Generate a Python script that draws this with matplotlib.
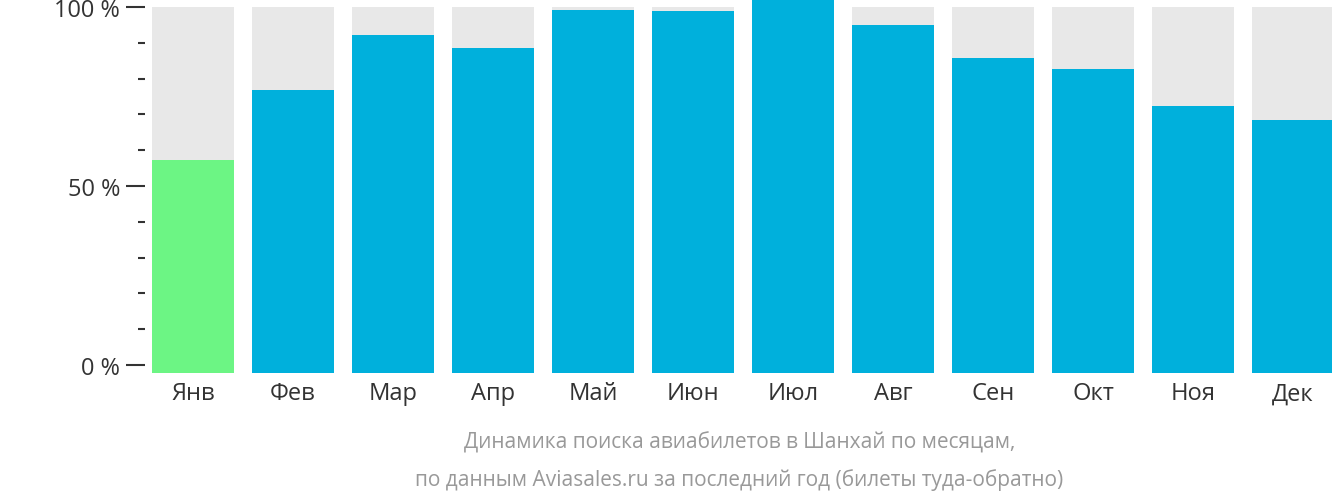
import matplotlib
matplotlib.use("Agg")
import matplotlib.pyplot as plt

months = ["Янв", "Фев", "Мар", "Апр", "Май", "Июн", "Июл", "Авг", "Сен", "Окт", "Ноя", "Дек"]
values = [57.3, 76.8, 92.2, 88.5, 99.2, 98.9, 102.2, 95.0, 85.8, 82.7, 72.3, 68.4]
colors = ["#6cf584"] + ["#00b0dc"] * 11

plt.rcParams["font.family"] = "Open Sans"
fig = plt.figure(figsize=(13.32, 5.02), dpi=100)
ax = fig.add_axes([0.1089, 0.255, 0.8911, 0.745])

x = range(len(months))
ax.bar(x, [102.2] * 12, width=0.82, bottom=-2.2, color="#e8e8e8")
ax.bar(x, [v + 2.2 for v in values], width=0.82, bottom=-2.2, color=colors)

ax.set_xlim(-0.48, 11.39)
ax.set_ylim(-2.2, 102.2)
ax.set_xticks(list(x))
ax.set_xticklabels(months, fontsize=17, color="#333333")
ax.tick_params(axis="x", length=0, pad=6)
ax.set_yticks([0, 50, 100])
ax.set_yticklabels(["0 %", "50 %", "100 %"], fontsize=17, color="#333333")
ax.set_yticks(range(10, 100, 10), minor=True)
ax.tick_params(axis="y", which="major", length=14, width=1.5, color="#333333", pad=4)
ax.tick_params(axis="y", which="minor", length=5, width=1.5, color="#333333")
for s in ax.spines.values():
    s.set_visible(False)

fig.text(0.555, 0.117, "Динамика поиска авиабилетов в Шанхай по месяцам,",
         ha="center", va="center", fontsize=15, color="#999999")
fig.text(0.555, 0.043, "по данным Aviasales.ru за последний год (билеты туда-обратно)",
         ha="center", va="center", fontsize=15, color="#999999")

fig.savefig("out.png", dpi=100)
